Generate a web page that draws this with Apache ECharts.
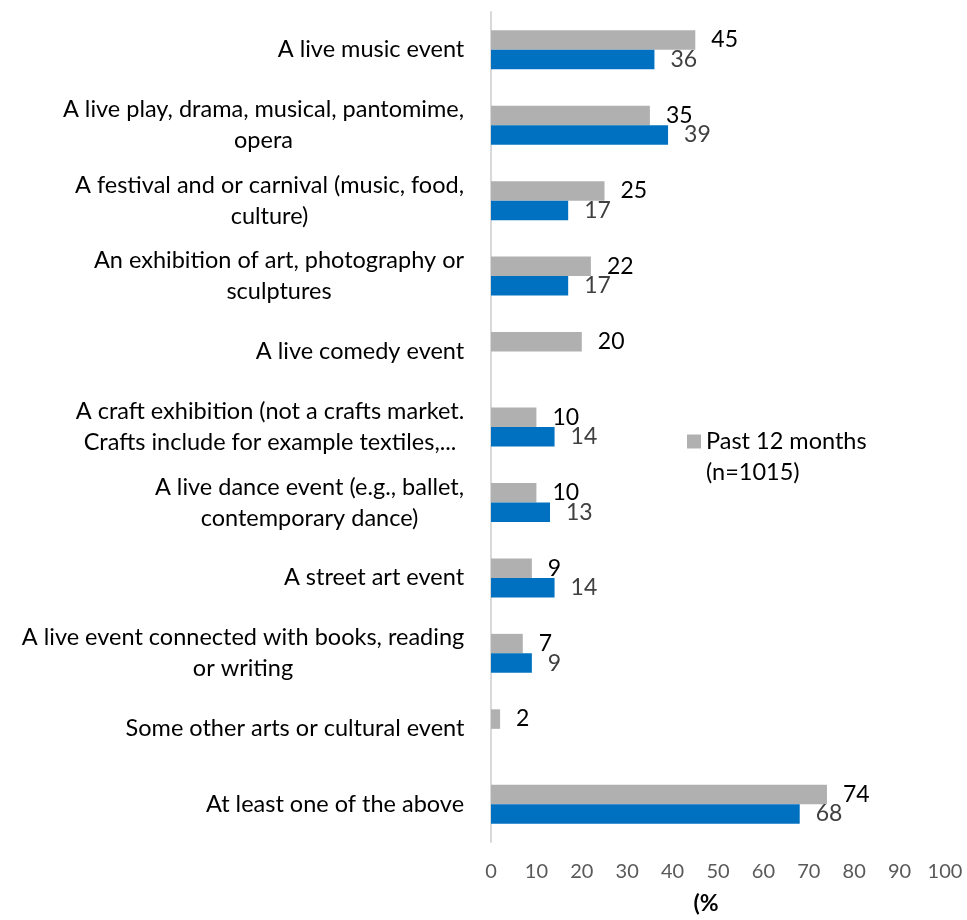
<!DOCTYPE html>
<html>
<head>
<meta charset="utf-8">
<script src="https://cdn.jsdelivr.net/npm/echarts@6/dist/echarts.min.js"></script>
<style>
  html, body { margin: 0; padding: 0; background: #fff; }
  #chart { width: 967px; height: 920px; }
</style>
</head>
<body>
<div id="chart"></div>
<script>
// Arts and cultural events attended (%)
const categories = [
  'A live music event',
  'A live play, drama, musical, pantomime,\nopera',
  'A festival and or carnival (music, food,\nculture)',
  'An exhibition of art, photography or\nsculptures',
  'A live comedy event',
  'A craft exhibition (not a crafts market.\nCrafts include for example textiles,...',
  'A live dance event (e.g., ballet,\ncontemporary dance)',
  'A street art event',
  'A live event connected with books, reading\nor writing',
  'Some other arts or cultural event',
  'At least one of the above'
];
const past12Name = 'Past 12 months\n(n=1015)';
const past12Values = [45, 35, 25, 22, 20, 10, 10, 9, 7, 2, 74];
const otherValues = [36, 39, 17, 17, null, 14, 13, 14, 9, null, 68];
const xTicks = [0, 10, 20, 30, 40, 50, 60, 70, 80, 90, 100];

const FONT = 'Lato';
const LABEL_SIZE = 23.5;

// Multi-line category labels: lines are centred within a block that is right-aligned to the axis
const ctx = document.createElement('canvas').getContext('2d');
ctx.font = LABEL_SIZE + 'px ' + FONT;
const rich = {};
categories.forEach((c, i) => {
  const lines = c.split('\n');
  const w = Math.max(...lines.map(l => ctx.measureText(l).width));
  rich['c' + i] = {
    width: Math.ceil(w) + 1,
    align: 'center',
    fontFamily: FONT,
    fontSize: LABEL_SIZE,
    lineHeight: 31,
    color: '#000'
  };
});

const chart = echarts.init(document.getElementById('chart'), null, { renderer: 'canvas' });
chart.setOption({
  animation: false,
  backgroundColor: '#fff',
  textStyle: { fontFamily: FONT },
  grid: { left: 491, right: 22, top: 12, bottom: 75, containLabel: false },
  legend: {
    data: [past12Name],
    left: 687,
    top: 395,
    padding: 0,
    orient: 'vertical',
    icon: 'rect',
    itemWidth: 14,
    itemHeight: 14,
    // leading blank line keeps the marker level with the first text line
    formatter: name => '\u00a0\n' + name,
    textStyle: { fontFamily: FONT, fontSize: LABEL_SIZE, color: '#000', lineHeight: 31 }
  },
  xAxis: {
    type: 'value',
    min: 0,
    max: 100,
    interval: 10,
    name: '(%',
    nameLocation: 'middle',
    nameGap: 50,
    nameTextStyle: { fontFamily: FONT, fontSize: 23, color: '#000', fontWeight: 'bold', padding: [0, 24, 0, 0] },
    axisLine: { show: false },
    axisTick: { show: false },
    splitLine: { show: false },
    axisLabel: {
      margin: 20,
      fontFamily: FONT,
      fontSize: 20,
      color: '#595959',
      customValues: xTicks
    }
  },
  yAxis: {
    type: 'category',
    inverse: true,
    data: categories,
    axisLine: { show: true, lineStyle: { color: '#d9d9d9', width: 2 } },
    axisTick: { show: false },
    axisLabel: {
      margin: 26,
      interval: 0,
      formatter: (v, i) => v.split('\n').map(l => '{c' + i + '|' + l + '}').join('\n'),
      rich: rich
    }
  },
  series: [
    {
      name: past12Name,
      type: 'bar',
      data: past12Values,
      barWidth: 19.5,
      barGap: '0%',
      itemStyle: { color: '#b0b0b0' },
      label: {
        show: true,
        position: 'right',
        distance: 16,
        fontFamily: FONT,
        fontSize: 23,
        color: '#000'
      }
    },
    {
      name: 'Other',
      type: 'bar',
      data: otherValues,
      barWidth: 19.5,
      barGap: '0%',
      itemStyle: { color: '#0070c0' },
      label: {
        show: true,
        position: 'right',
        distance: 16,
        fontFamily: FONT,
        fontSize: 23,
        color: '#404040'
      }
    }
  ]
});
</script>
</body>
</html>
